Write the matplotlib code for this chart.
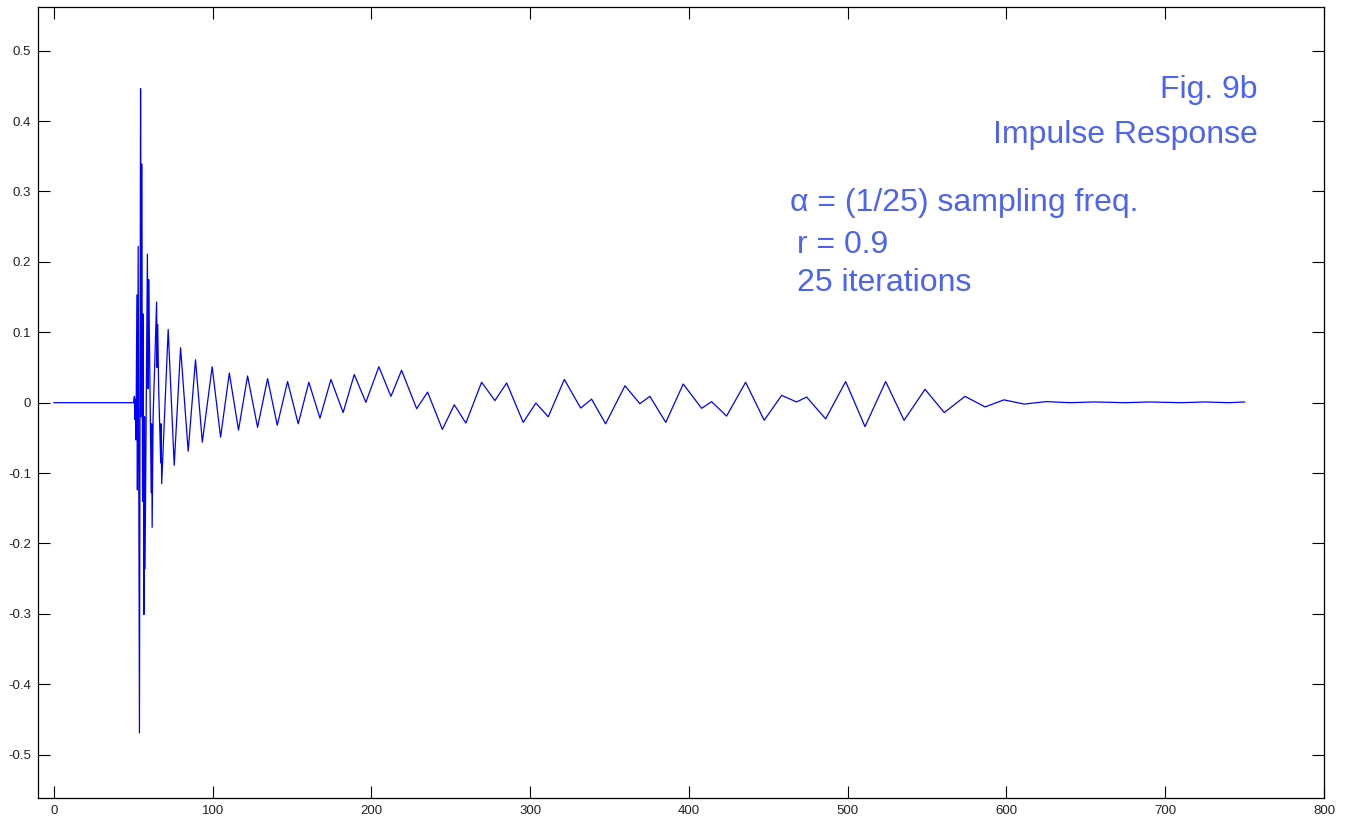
import matplotlib
matplotlib.use('Agg')
import matplotlib.pyplot as plt

plt.rcParams['font.family'] = ['Liberation Sans', 'DejaVu Sans']
plt.rcParams['axes.unicode_minus'] = False

# impulse response, sample index vs amplitude (extrema and turning points)
n = [0, 50.3, 50.7, 51.0, 51.3, 51.7, 52.3, 52.6, 53.1, 53.9, 54.6, 55.0, 55.3,
     55.9, 56.2, 56.7, 57.1, 57.4, 58.9, 59.3, 59.7, 60.2, 61.3, 61.6, 61.9,
     62.5, 64.7, 65.0, 65.4, 66.0, 67.3, 67.5, 67.9, 72.0, 75.8, 79.8, 84.6,
     89.2, 93.5, 99.7, 105.0, 110.5, 116.3, 122.0, 128.3, 134.6, 140.7, 147.2,
     153.9, 160.6, 167.6, 174.5, 182.2, 189.2, 196.5, 204.7, 212.3, 219.0,
     228.5, 235.4, 244.7, 252.2, 259.5, 269.4, 277.8, 285.2, 295.6, 303.6,
     311.4, 321.5, 331.8, 338.7, 347.5, 359.7, 369.1, 375.4, 385.4, 396.4,
     408.0, 414.3, 423.7, 435.7, 447.4, 458.4, 467.8, 474.1, 486.1, 498.7,
     510.9, 523.9, 535.5, 548.7, 560.8, 573.9, 586.5, 598.4, 611.2, 625, 640,
     655, 675, 690, 710, 725, 740, 750]
h = [0, 0, 0.009, -0.024, 0.005, -0.053, 0.153, -0.124, 0.222, -0.469, 0.446,
     -0.02, 0.339, -0.140, 0.126, -0.301, -0.02, -0.236, 0.211, 0.02, 0.175,
     0.085, -0.128, -0.03, -0.177, -0.02, 0.143, 0.05, 0.111, 0.02, -0.0855,
     -0.03, -0.115, 0.104, -0.089, 0.078, -0.069, 0.061, -0.056, 0.051, -0.049,
     0.042, -0.039, 0.038, -0.035, 0.034, -0.032, 0.030, -0.030, 0.029, -0.022,
     0.033, -0.014, 0.040, 0.0005, 0.051, 0.009, 0.046, -0.0085, 0.015, -0.038,
     -0.003, -0.029, 0.029, 0.003, 0.028, -0.028, -0.0005, -0.020, 0.033,
     -0.0076, 0.005, -0.030, 0.024, -0.0014, 0.009, -0.028, 0.0265, -0.008,
     0.0014, -0.019, 0.029, -0.025, 0.0104, 0.001, 0.008, -0.023, 0.030,
     -0.034, 0.030, -0.025, 0.019, -0.014, 0.009, -0.006, 0.004, -0.002,
     0.0015, 0.0, 0.001, 0.0, 0.001, 0.0, 0.001, 0.0, 0.001]

xticks = list(range(0, 801, 100))
yticks = [-0.5, -0.4, -0.3, -0.2, -0.1, 0, 0.1, 0.2, 0.3, 0.4, 0.5]
ytick_labels = ['-0.5', '-0.4', '-0.3', '-0.2', '-0.1', '0',
                '0.1', '0.2', '0.3', '0.4', '0.5']

W, H = 1356, 825
fig = plt.figure(figsize=(W / 100, H / 100), dpi=100)
ax = fig.add_axes([38 / W, 1 - 798 / H, (1324 - 38) / W, (798 - 7) / H])

ax.plot(n, h, color='#0000ff', lw=0.9)

ax.set_xlim(-10, 800)
ax.set_ylim(-0.5615, 0.562)
ax.set_xticks(xticks)
ax.set_yticks(yticks)
ax.set_yticklabels(ytick_labels)
ax.tick_params(direction='in', length=8.5, width=0.8, top=True, right=True,
               labelsize=9.5, labelcolor='#222222', pad=5)
for s in ax.spines.values():
    s.set_linewidth(0.9)

txt = '#4d63f2'
fig.text(1258 / W, 1 - 90 / H, 'Fig. 9b', ha='right', va='center',
         fontsize=23, color=txt)
fig.text(1258 / W, 1 - 135 / H, 'Impulse Response', ha='right', va='center',
         fontsize=23, color=txt)
fig.text(790 / W, 1 - 203 / H, 'α = (1/25) sampling freq.', ha='left',
         va='center', fontsize=23, color=txt)
fig.text(797 / W, 1 - 245 / H, 'r = 0.9', ha='left', va='center',
         fontsize=23, color=txt)
fig.text(797 / W, 1 - 283 / H, '25 iterations', ha='left', va='center',
         fontsize=23, color=txt)

fig.savefig('out.png', dpi=100)
